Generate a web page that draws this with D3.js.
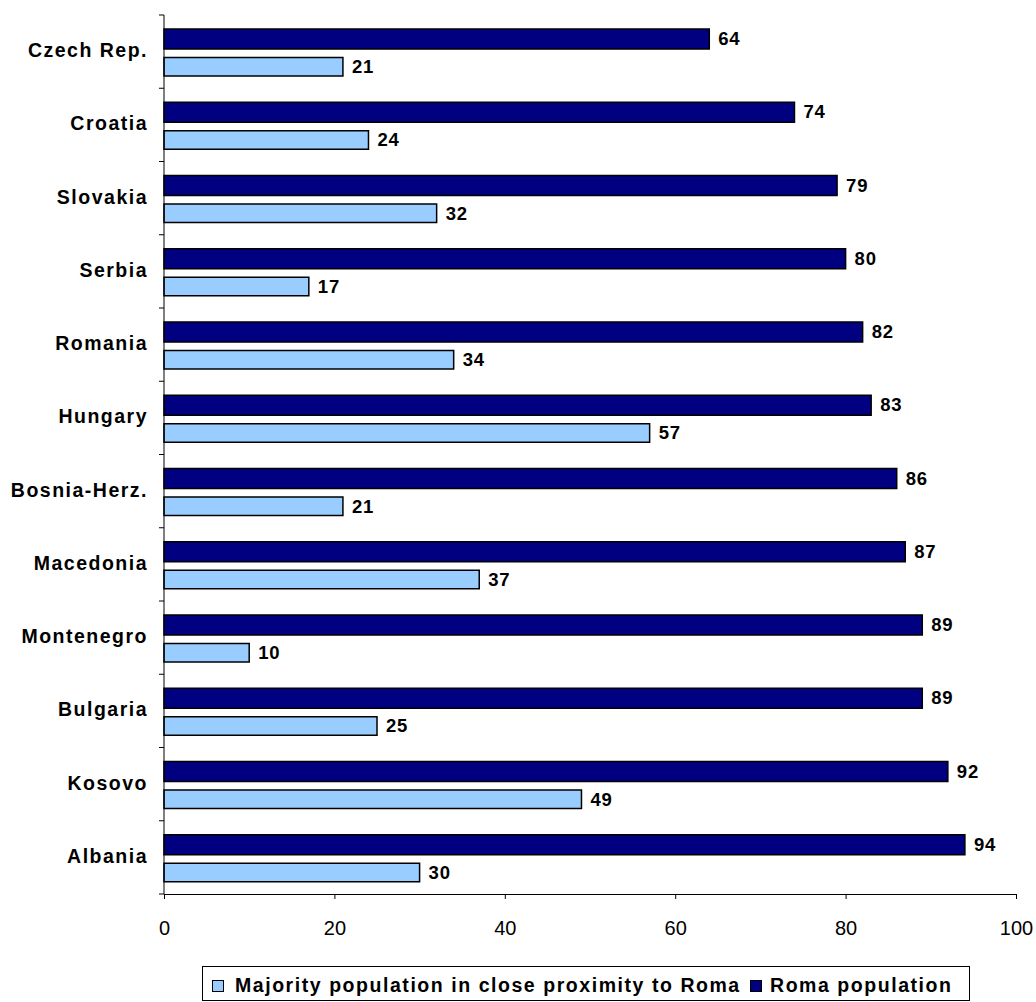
<!DOCTYPE html>
<html><head><meta charset="utf-8">
<script src="https://cdn.jsdelivr.net/npm/d3@7"></script>
<style>body{margin:0;background:#fff}svg{display:block;font-family:"Liberation Sans",Arial,sans-serif}</style>
</head><body>
<script>
const categories = ["Czech Rep.","Croatia","Slovakia","Serbia","Romania","Hungary","Bosnia-Herz.","Macedonia","Montenegro","Bulgaria","Kosovo","Albania"];
const romaValues = [64,74,79,80,82,83,86,87,89,89,92,94];
const majorityValues = [21,24,32,17,34,57,21,37,10,25,49,30];
const seriesNames = ["Majority population in close proximity to Roma","Roma population"];
const xTicks = [0,20,40,60,80,100];

const W=1036,H=1002;
const svg=d3.select("body").append("svg").attr("width",W).attr("height",H);
const x=d3.scaleLinear().domain([0,100]).range([164,1016]);
const y=d3.scaleBand().domain(categories).range([15,894]);
const bw=y.bandwidth();
const dark="#000080", light="#99CCFF";

const g=svg.append("g");
categories.forEach((c,i)=>{
  const y0=y(c);
  g.append("rect").attr("x",x(0)).attr("y",y0+14).attr("width",x(romaValues[i])-x(0)).attr("height",20)
    .attr("fill",dark).attr("stroke","#000").attr("stroke-width",1.5);
  g.append("text").attr("x",x(romaValues[i])+9).attr("y",y0+30)
    .attr("font-size",18.5).attr("font-weight","bold").attr("letter-spacing",0.8).text(romaValues[i]);
  g.append("rect").attr("x",x(0)).attr("y",y0+42.5).attr("width",x(majorityValues[i])-x(0)).attr("height",18.5)
    .attr("fill",light).attr("stroke","#000").attr("stroke-width",1.5);
  g.append("text").attr("x",x(majorityValues[i])+9).attr("y",y0+58)
    .attr("font-size",18.5).attr("font-weight","bold").attr("letter-spacing",0.8).text(majorityValues[i]);
});

// Y axis
const ya=svg.append("g").attr("transform",`translate(${x(0)},0)`);
ya.append("line").attr("y1",15).attr("y2",894).attr("stroke","#000");
const yTickPos=[...categories.map(c=>y(c)),894];
yTickPos.forEach(p=>ya.append("line").attr("x1",-5).attr("x2",0).attr("y1",p).attr("y2",p).attr("stroke","#000"));
categories.forEach(c=>ya.append("text").attr("x",-16).attr("y",y(c)+bw/2+5.5)
  .attr("text-anchor","end").attr("font-size",19.5).attr("font-weight","bold").attr("letter-spacing",1.5).text(c));

// X axis
const xa=svg.append("g").attr("transform","translate(0,894)")
  .call(d3.axisBottom(x).tickValues(xTicks).tickSize(5).tickSizeOuter(0).tickPadding(22));
xa.select(".domain").attr("stroke","#000");
xa.selectAll(".tick line").attr("stroke","#000");
xa.selectAll("text").attr("font-size",20).attr("fill","#000").attr("font-family","Liberation Sans, Arial, sans-serif");

// Legend
const lg=svg.append("g");
lg.append("rect").attr("x",202.5).attr("y",966.5).attr("width",767).attr("height",34).attr("fill","#fff").attr("stroke","#000");
const items=[{n:seriesNames[0],c:light,x:212,o:23},{n:seriesNames[1],c:dark,x:750,o:20}];
items.forEach(it=>{
  lg.append("rect").attr("x",it.x+0.5).attr("y",980.5).attr("width",11).attr("height",11).attr("fill",it.c).attr("stroke","#000");
  lg.append("text").attr("x",it.x+it.o).attr("y",992).attr("font-size",19.5).attr("font-weight","bold").attr("letter-spacing",1.55).text(it.n);
});
</script>
</body></html>
